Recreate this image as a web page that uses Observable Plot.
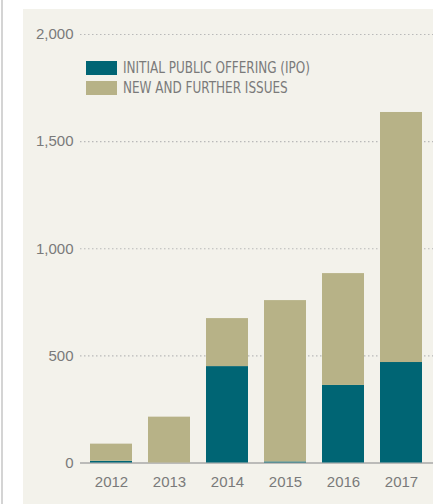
<!DOCTYPE html>
<html>
<head>
<meta charset="utf-8">
<script src="https://cdn.jsdelivr.net/npm/d3@7"></script>
<script src="https://cdn.jsdelivr.net/npm/@observablehq/plot@0.6"></script>
<style>
  html, body { margin: 0; padding: 0; background: #ffffff; overflow: hidden; width: 433px; height: 504px; }
  #frame { position: absolute; left: 1px; top: 0; width: 2px; height: 504px; background: #d4d4d4; }
  #panel { position: absolute; left: 23px; top: 9px; width: 420px; height: 500px; background: #F3F2EB; }
  #chart { position: absolute; left: 0; top: 0; width: 441px; }
  #chart svg { background: transparent; overflow: hidden; max-width: none !important; }
  #legend { position: absolute; left: 86px; top: 61px; font-family: "Liberation Sans Narrow", "DejaVu Sans Condensed", "Arial Narrow", sans-serif; font-size: 16px; color: #7a7a7a; }
  .item { position: relative; height: 20px; }
  .sw { position: absolute; left: 0; top: 0; width: 31px; height: 14px; }
  .lb { position: absolute; left: 37px; top: -2px; white-space: nowrap; line-height: 18px; transform-origin: left center; }
</style>
</head>
<body>
<div id="frame"></div>
<div id="panel"></div>
<div id="chart"></div>
<div id="legend"></div>
<script>
const years = ["2012", "2013", "2014", "2015", "2016", "2017"];
const ipo = [8, 0, 450, 5, 362, 469];
const furtherIssues = [80, 214, 224, 753, 522, 1167];
const seriesNames = ["INITIAL PUBLIC OFFERING (IPO)", "NEW AND FURTHER ISSUES"];
const seriesColors = ["#006574", "#B7B287"];
const yTicks = [0, 500, 1000, 1500, 2000];

const data = [];
years.forEach((y, i) => {
  data.push({year: y, series: seriesNames[0], value: ipo[i]});
  data.push({year: y, series: seriesNames[1], value: furtherIssues[i]});
});

const chart = Plot.plot({
  width: 441,
  height: 504,
  marginLeft: 80,
  marginRight: 0,
  marginTop: 34,
  marginBottom: 41.5,
  style: {background: "transparent", fontFamily: "'Liberation Sans', Arial, sans-serif", fontSize: "15px", color: "#7a7a7a"},
  x: {domain: years, range: [72, 441], padding: 0.27, label: null},
  y: {domain: [0, 2000], label: null},
  color: {domain: seriesNames, range: seriesColors},
  marks: [
    Plot.ruleY(yTicks.filter(d => d > 0), {stroke: "#b9b9b9", strokeWidth: 1.2, strokeDasharray: "1.5,2.5"}),
    Plot.ruleY([0], {stroke: "#a9a9a9", strokeWidth: 1.5}),
    Plot.barY(data, {x: "year", y: "value", fill: "series", order: seriesNames}),
    Plot.axisY({ticks: yTicks, tickFormat: d3.format(","), tickSize: 0, tickPadding: 7, fill: "#7a7a7a", fontSize: 15}),
    Plot.axisX({tickSize: 0, tickPadding: 13, fill: "#7a7a7a", fontSize: 15})
  ]
});
document.getElementById("chart").appendChild(chart);

const legend = document.getElementById("legend");
const labels = [];
seriesNames.forEach((name, i) => {
  const item = document.createElement("div");
  item.className = "item";
  const sw = document.createElement("div");
  sw.className = "sw";
  sw.style.background = seriesColors[i];
  const lb = document.createElement("div");
  lb.className = "lb";
  lb.textContent = name;
  item.appendChild(sw);
  item.appendChild(lb);
  legend.appendChild(item);
  labels.push(lb);
});
// condense legend text to the reference's narrow type width
const w0 = labels[0].getBoundingClientRect().width;
const k = 187 / w0;
labels.forEach(lb => { lb.style.transform = `scaleX(${k})`; });
</script>
</body>
</html>
